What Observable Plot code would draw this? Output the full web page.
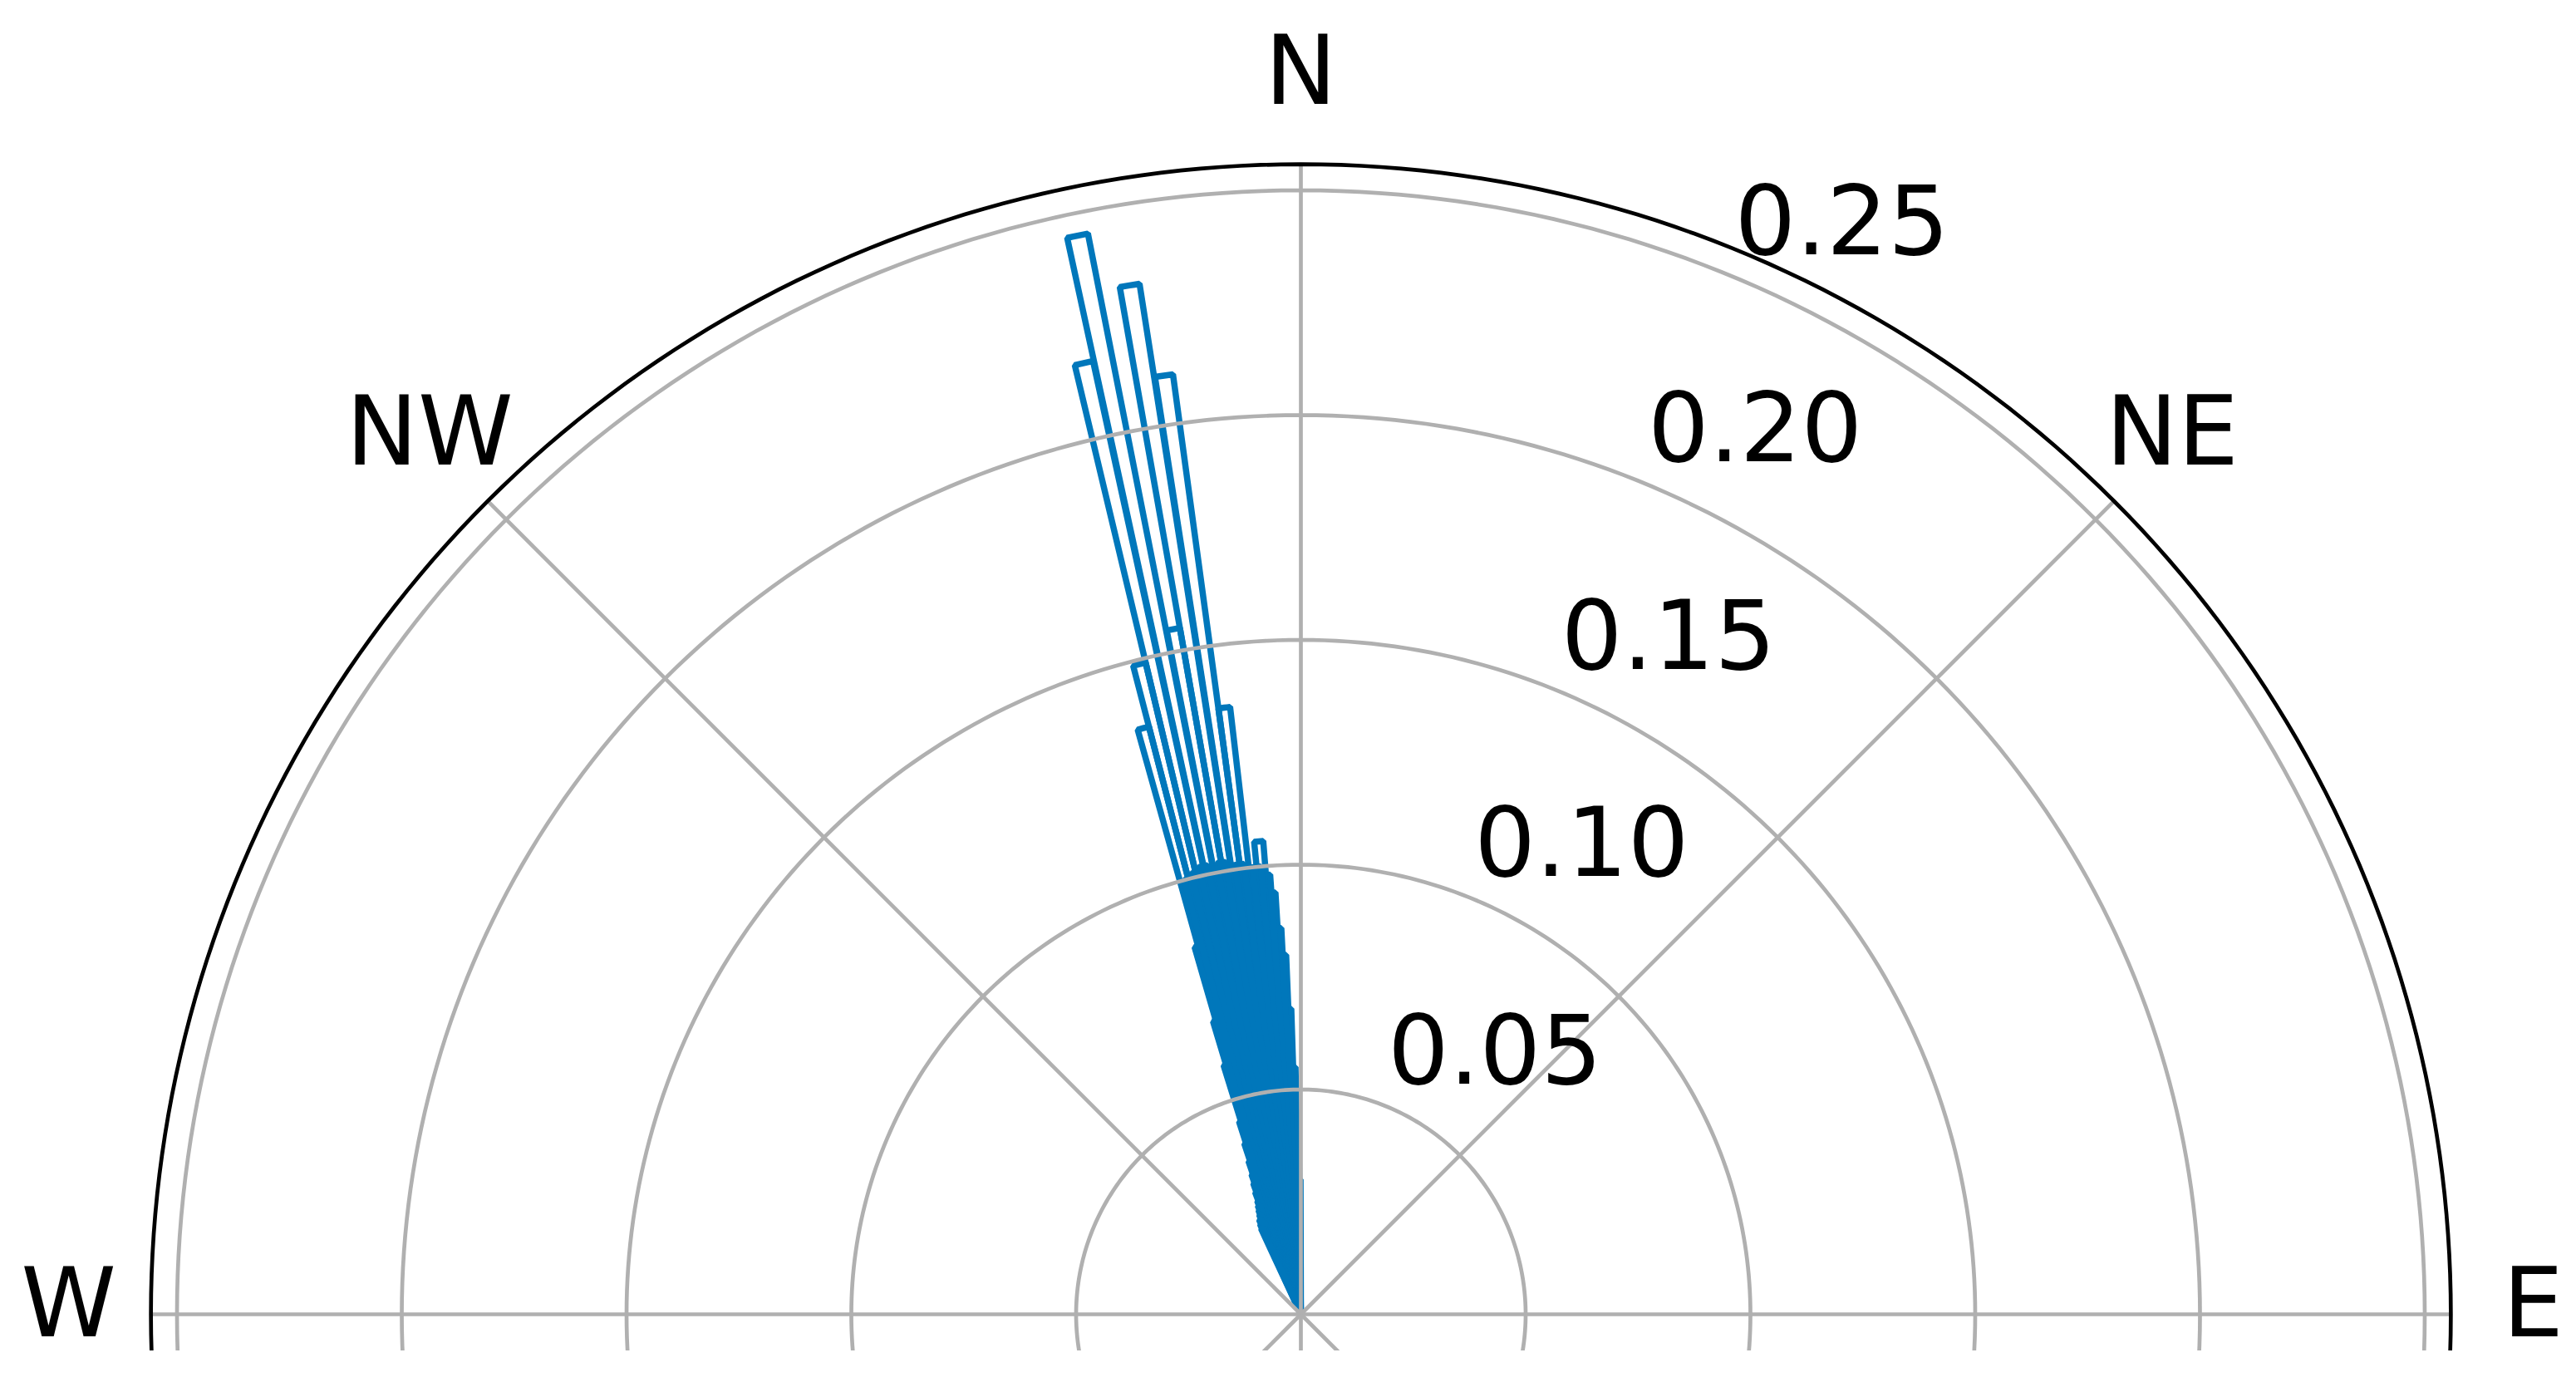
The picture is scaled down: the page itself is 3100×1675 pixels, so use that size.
<!DOCTYPE html>
<html>
<head>
<meta charset="utf-8">
<script src="https://cdn.jsdelivr.net/npm/d3@7"></script>
<script src="https://cdn.jsdelivr.net/npm/@observablehq/plot@0.6"></script>
<style>
  html, body { margin: 0; padding: 0; background: #fff; }
  #chart svg { display: block; }
</style>
</head>
<body>
<div id="chart"></div>
<script>
// ---- Data (directions in degrees, negative = west of north) ----
// Main bar family (tall bars)
const dirA = [-0.7, -1.8, -2.9, -4.0, -5.1, -6.2, -7.2, -8.3, -9.45, -10.55, -11.7, -12.85, -13.95,
              -15.05, -16.15, -17.25, -18.35, -19.45, -20.55, -21.65, -22.75, -23.85];
const lenA = [0.030, 0.055, 0.080, 0.094, 0.1056, 0.100, 0.136, 0.211, 0.232, 0.155, 0.245, 0.217, 0.149,
              0.135, 0.068, 0.045, 0.036, 0.031, 0.027, 0.025, 0.023, 0.022];
// Secondary (interleaved) bar family, shorter bars
const dirB = [-1.25, -2.35, -3.45, -4.55, -5.65, -6.7, -7.75, -8.9, -10.0, -11.1, -12.3, -13.4, -14.5,
              -15.6, -16.7, -17.8, -18.9, -20.0, -21.1, -22.2, -23.3, -24.4];
const lenB = [0.042, 0.068, 0.086, 0.098, 0.100, 0.100, 0.101, 0.101, 0.102, 0.101, 0.102, 0.101, 0.100,
              0.085, 0.058, 0.040, 0.033, 0.029, 0.026, 0.024, 0.023, 0.021];

// Radial axis ticks
const rTicks = [0.05, 0.10, 0.15, 0.20, 0.25];
const rTickLabels = ["0.05", "0.10", "0.15", "0.20", "0.25"];
const rMax = 0.2558;

// Angular grid and compass labels
const spokeAngles = [0, 45, 90, 135, 180, 225, 270, 315];
const compassAngles = [0, 45, 90, 270, 315];
const compassLabels = ["N", "NE", "E", "W", "NW"];

// ---- Geometry helpers (polar -> cartesian in data units) ----
const deg = Math.PI / 180;
const BAR_W = 1.1;          // angular width of each bar, degrees
const RLABEL_ANGLE = 22.7;  // radial labels position
const COMPASS_R = 0.2741;   // radius of the compass labels

const toXY = (r, a) => ({ x: r * Math.sin(a * deg), y: r * Math.cos(a * deg) });

function wedges(dirs, lens, prefix) {
  const pts = [];
  dirs.forEach((d, i) => {
    const id = prefix + i;
    pts.push({ id, ...toXY(0, d) });
    for (let k = 0; k <= 4; k++) {
      const a = d - BAR_W / 2 + (BAR_W * k) / 4;
      pts.push({ id, ...toXY(lens[i], a) });
    }
    pts.push({ id, ...toXY(0, d) });
  });
  return pts;
}
const barPts = [...wedges(dirA, lenA, "A"), ...wedges(dirB, lenB, "B")];

function circlePts(r, id) {
  const pts = [];
  for (let a = 0; a <= 360; a += 1) pts.push({ id, ...toXY(r, a) });
  return pts;
}
const ringPts = rTicks.flatMap((r, i) => circlePts(r, "r" + i));
const outerPts = circlePts(rMax, "outer");
const spokes = spokeAngles.map(a => ({ a, ...toXY(rMax, a) }));
const rLabelData = rTicks.map((r, i) => ({ label: rTickLabels[i], ...toXY(r, RLABEL_ANGLE) }));
const compassData = compassAngles.map((a, i) => ({ label: compassLabels[i], ...toXY(COMPASS_R, a) }));

// ---- Layout ----
const K = 5410;            // pixels per data unit
const cx = 1565, cy = 1581, bottomY = 1625;
const PAD = 0.27;
const W = 3100, H = 1675;

const chart = Plot.plot({
  width: W,
  height: H,
  marginLeft: cx - PAD * K,
  marginRight: W - cx - PAD * K,
  marginTop: cy - PAD * K,
  marginBottom: H - bottomY,
  x: { domain: [-PAD, PAD], axis: null },
  y: { domain: [-(bottomY - cy) / K, PAD], axis: null },
  style: { fontFamily: "DejaVu Sans", background: "#fff", color: "#000", overflow: "visible" },
  marks: [
    Plot.line(barPts, { x: "x", y: "y", z: "id", stroke: "#0077bb", strokeWidth: 7.5,
                        strokeLinejoin: "miter", fill: "none", curve: "linear", clip: true }),
    Plot.line(ringPts, { x: "x", y: "y", z: "id", stroke: "#b0b0b0", strokeWidth: 4.7, clip: true }),
    Plot.link(spokes, { x1: 0, y1: 0, x2: "x", y2: "y", stroke: "#b0b0b0", strokeWidth: 4.7, clip: true }),
    Plot.line(outerPts, { x: "x", y: "y", z: "id", stroke: "#000", strokeWidth: 4.7, clip: true }),
    Plot.text(rLabelData, { x: "x", y: "y", text: "label", textAnchor: "start", lineAnchor: "bottom",
                            dy: -28, fontSize: 116, fill: "#000" }),
    Plot.text(compassData, { x: "x", y: "y", text: "label", textAnchor: "middle", lineAnchor: "middle",
                             dy: -11, fontSize: 116, fill: "#000" })
  ]
});
document.getElementById("chart").appendChild(chart);
</script>
</body>
</html>
